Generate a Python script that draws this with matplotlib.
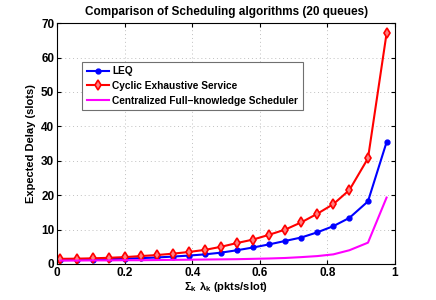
import matplotlib

matplotlib.use("Agg")

import matplotlib.pyplot as plt

plt.rcParams["font.family"] = ["Liberation Sans", "DejaVu Sans"]
plt.rcParams["font.weight"] = "bold"
plt.rcParams["mathtext.default"] = "regular"

# total load (sum of per-queue arrival rates)
load = [0.01, 0.0575, 0.105, 0.1525, 0.2, 0.2475, 0.295, 0.3425, 0.39, 0.4375, 0.485,
        0.5325, 0.58, 0.6275, 0.675, 0.7225, 0.77, 0.8175, 0.865, 0.92, 0.975]

leq_delay = [1.1, 1.2, 1.3, 1.4, 1.55, 1.7, 1.9, 2.15, 2.45, 2.8, 3.3,
             4.0, 4.8, 5.7, 6.7, 7.7, 9.2, 11.0, 13.4, 18.2, 35.4]
cyclic_delay = [1.5, 1.55, 1.65, 1.8, 2.0, 2.3, 2.6, 3.0, 3.5, 4.1, 5.0,
                6.1, 7.1, 8.5, 10.0, 12.1, 14.6, 17.4, 21.5, 30.7, 67.0]
central_delay = [1.0, 1.0, 1.05, 1.05, 1.1, 1.1, 1.15, 1.2, 1.25, 1.3, 1.35,
                 1.4, 1.5, 1.6, 1.75, 2.0, 2.3, 2.8, 4.0, 6.2, 19.3]

labels = ["LEQ", "Cyclic Exhaustive Service", "Centralized Full\u2212knowledge Scheduler"]

fig = plt.figure(figsize=(4.36, 3.0), dpi=100)
ax = fig.add_axes([0.131, 0.12, 0.775, 0.803])

ax.plot(load, leq_delay, color="blue", lw=1.5, marker="o", ms=3.5, label=labels[0])
ax.plot(load, cyclic_delay, color="red", lw=1.5, marker="d", ms=5, mfc="#ff8080",
        mew=1.2, label=labels[1])
ax.plot(load, central_delay, color="magenta", lw=1.5, label=labels[2])

ax.set_xlim(0, 1)
ax.set_ylim(0, 70)
ax.set_xticks([0, 0.2, 0.4, 0.6, 0.8, 1])
ax.set_xticklabels(["0", "0.2", "0.4", "0.6", "0.8", "1"])
ax.set_yticks(range(0, 71, 10))
ax.tick_params(direction="in", length=3, labelsize=8.5, top=True, right=True, pad=2)
for lbl in ax.get_xticklabels() + ax.get_yticklabels():
    lbl.set_fontweight("bold")
ax.grid(True, linestyle=(0, (1, 3)), color="#c0c0c0", lw=0.7)

ax.set_title("Comparison of Scheduling algorithms (20 queues)", fontsize=8.5,
             fontweight="bold", pad=6)
ax.set_xlabel(r"$\Sigma_k\ \lambda_k$ (pkts/slot)", fontsize=8, fontweight="bold", labelpad=1)
ax.set_ylabel("Expected Delay (slots)", fontsize=8, fontweight="bold", labelpad=4)

leg = ax.legend(loc="upper left", bbox_to_anchor=(0.06, 0.86),
                fancybox=False, framealpha=1, edgecolor="#707070",
                prop={"size": 7.3, "weight": "bold"},
                handlelength=2.2, handletextpad=0.3, borderpad=0.45, labelspacing=0.45)
leg.get_frame().set_linewidth(0.8)

fig.savefig("out.png", dpi=100)
